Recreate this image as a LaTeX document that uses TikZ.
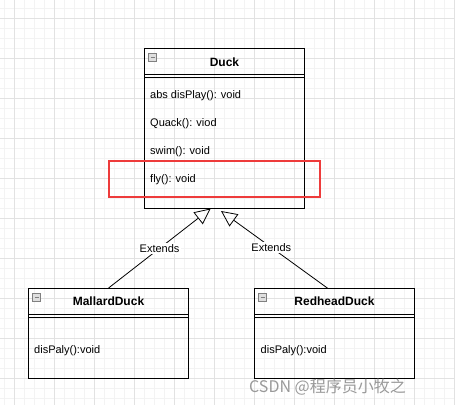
\documentclass[tikz,border=0pt]{standalone}
\usepackage{fontspec}
\setmainfont{Liberation Sans}
\newfontfamily\cjkfont{Noto Sans CJK SC}
\usetikzlibrary{arrows.meta}
\definecolor{gridmajor}{HTML}{E2E2E2}
\definecolor{gridminor}{HTML}{F3F3F3}
\definecolor{markred}{HTML}{EE3B3B}
\begin{document}
\begin{tikzpicture}[x=1pt,y=-1pt,
    classbox/.style={draw,line width=0.9pt,minimum width=160pt,inner sep=0pt},
    classname/.style={inner sep=0pt,font=\fontsize{12}{14}\selectfont\bfseries},
    member/.style={anchor=west,inner sep=0pt,font=\fontsize{11}{13}\selectfont},
    minusbox/.style={draw=gray,fill=gray!25,line width=0.5pt,minimum size=8pt,inner sep=0pt,
      path picture={\draw[line width=0.8pt] ([xshift=2pt]path picture bounding box.west)
        -- ([xshift=-2pt]path picture bounding box.east);}},
    extends/.style={-{Triangle[open,length=16pt,width=15pt]},line width=0.8pt},
    extlabel/.style={fill=white,inner sep=1.5pt,font=\fontsize{11}{13}\selectfont}]
  \useasboundingbox (0,0) rectangle (455,405);
  % grid
  \foreach \x in {4,14,...,454} \draw[gridminor,line width=0.6pt] (\x,0) -- (\x,405);
  \foreach \y in {8,18,...,398} \draw[gridminor,line width=0.6pt] (0,\y) -- (455,\y);
  \foreach \x in {14,54,...,454} \draw[gridmajor,line width=0.8pt] (\x,0) -- (\x,405);
  \foreach \y in {18,58,...,378} \draw[gridmajor,line width=0.8pt] (0,\y) -- (455,\y);
  % classes
  \node[classbox,minimum height=160pt] (duck) at (224.5,128.5) {};
  \node[classbox,minimum height=90pt] (mallard) at (108.5,333.5) {};
  \node[classbox,minimum height=90pt] (redhead) at (334.5,333.5) {};
  \foreach \c in {duck,mallard,redhead} {
    \draw[line width=0.9pt] ([yshift=-26pt]\c.north west) -- ([yshift=-26pt]\c.north east);
    \draw[line width=0.9pt] ([yshift=-29.5pt]\c.north west) -- ([yshift=-29.5pt]\c.north east);
    \node[minusbox] (\c-min) at ([xshift=8.5pt,yshift=-9pt]\c.north west) {};
  }
  \node[classname] (duck-name) at (224.5,62) {Duck};
  \node[classname] (mallard-name) at (108.5,301.5) {MallardDuck};
  \node[classname] (redhead-name) at (334.5,301.5) {RedheadDuck};
  \node[member] (duck-1) at (150,96) {abs disPlay(): void};
  \node[member] (duck-2) at (150,124) {Quack(): viod};
  \node[member] (duck-3) at (150,152) {swim(): void};
  \node[member] (duck-4) at (150,180) {fly(): void};
  \node[member] (mallard-1) at (34,351) {disPaly():void};
  \node[member] (redhead-1) at (260.5,351) {disPaly():void};
  % highlight
  \draw[markred,line width=2.6pt] (109,161) rectangle (320,197);
  % inheritance
  \coordinate (tipL) at (210.7,208.5);
  \coordinate (tipR) at (221,211);
  \coordinate (redtop) at (328,288.5);
  \begin{scope}[extends]
    \draw (mallard.north) to node[extlabel] (extL) {Extends} (tipL);
    \draw (redtop) to node[extlabel,pos=0.53] (extR) {Extends} (tipR);
  \end{scope}
  \node[anchor=west,inner sep=0pt,text=gray!80,font=\cjkfont\fontsize{16}{18}\selectfont] (mark) at (249,387) {CSDN @程序员小牧之};
\end{tikzpicture}
\end{document}
